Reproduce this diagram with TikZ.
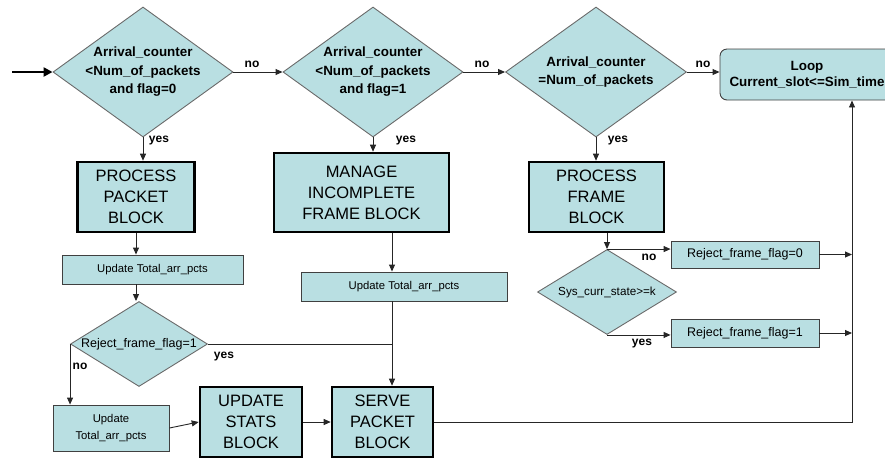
\documentclass[tikz,border=0pt]{standalone}
\usepackage{fontspec}
\setmainfont{Liberation Sans}
\usetikzlibrary{shapes.geometric,arrows.meta}
\definecolor{fillc}{HTML}{B9DFE2}
\definecolor{edgec}{HTML}{404040}
\definecolor{diac}{HTML}{6A6A6A}
\tikzset{
  x=1pt,y=-1pt,
  dia/.style={diamond,draw=diac,line width=0.9pt,fill=fillc,inner sep=0pt},
  diatext/.style={font=\fontsize{13.4}{18.5}\selectfont\bfseries,align=center,inner sep=0pt},
  smalltext/.style={font=\fontsize{12.5}{17}\selectfont,align=center,inner sep=0pt},
  bigblock/.style={rectangle,draw=black,line width=2.6pt,fill=fillc,align=center,inner sep=0pt,
    font=\fontsize{16.5}{21}\selectfont},
  thinbox/.style={rectangle,draw=edgec,line width=0.9pt,fill=fillc,align=center,inner sep=0pt,
    font=\fontsize{12.5}{17}\selectfont},
  updbox/.style={thinbox,font=\fontsize{11.3}{17}\selectfont},
  lbl/.style={font=\fontsize{12}{14}\selectfont\bfseries,inner sep=0pt},
  arr/.style={draw=black!85,line width=0.9pt,-{Triangle[length=7pt,width=6pt]}},
  ln/.style={draw=black!85,line width=0.9pt},
}
\begin{document}
\begin{tikzpicture}
\useasboundingbox (0,0) rectangle (885,459);
% decision diamonds (top row)
\node[dia,minimum width=180pt,minimum height=130pt] (d1) at (143,72) {};
\node[diatext] at (d1.center) {Arrival\_counter\\<Num\_of\_packets\\and flag=0};
\node[dia,minimum width=180pt,minimum height=130pt] (d2) at (373,72) {};
\node[diatext] at (d2.center) {Arrival\_counter\\<Num\_of\_packets\\and flag=1};
\node[dia,minimum width=181pt,minimum height=130pt] (d3) at (596,72) {};
\node[diatext] at (d3.center) {Arrival\_counter\\=Num\_of\_packets};
\node[rectangle,rounded corners=7pt,draw=edgec,line width=0.9pt,fill=fillc,
  minimum width=174pt,minimum height=51pt,inner sep=0pt,align=center,
  font=\fontsize{13.4}{16}\selectfont\bfseries] (loop) at (807,74.5) {Loop\\Current\_slot<=Sim\_time};
% blocks
\node[bigblock,minimum width=117pt,minimum height=70pt] (pp) at (136,197) {PROCESS\\PACKET\\BLOCK};
\node[updbox,minimum width=181pt,minimum height=29pt] (u1) at (152.5,269.5) {Update Total\_arr\_pcts};
\node[dia,minimum width=137pt,minimum height=85pt] (dr) at (139,344) {};
\node[smalltext] at (dr.center) {Reject\_frame\_flag=1};
\node[updbox,minimum width=116pt,minimum height=46pt] (u2) at (111,428) {Update\\Total\_arr\_pcts};
\node[bigblock,minimum width=102pt,minimum height=70pt] (us) at (251,422) {UPDATE\\STATS\\BLOCK};
\node[bigblock,minimum width=101pt,minimum height=70pt] (sp) at (382.5,422) {SERVE\\PACKET\\BLOCK};
\node[bigblock,minimum width=175pt,minimum height=79pt] (mi) at (361.5,192.5) {MANAGE\\INCOMPLETE\\FRAME BLOCK};
\node[updbox,minimum width=206pt,minimum height=29pt] (u3) at (404,286.5) {Update Total\_arr\_pcts};
\node[bigblock,minimum width=135pt,minimum height=70pt] (pf) at (596.5,197) {PROCESS\\FRAME\\BLOCK};
\node[dia,minimum width=139pt,minimum height=85pt] (ds) at (607,292) {};
\node[smalltext,font=\fontsize{11.7}{17}\selectfont] at (ds.center) {Sys\_curr\_state>=k};
\node[thinbox,minimum width=148pt,minimum height=27pt] (r0) at (745,254.5) {Reject\_frame\_flag=0};
\node[thinbox,minimum width=148pt,minimum height=28pt] (r1) at (745,333) {Reject\_frame\_flag=1};
% helper coordinates
\coordinate (start) at (12,72);
\coordinate (c2) at (392,0);
\coordinate (cv) at (852,0);
% connectors
\draw[line width=2.8pt,-{Triangle[length=9pt,width=9pt]}] (start) -- (d1.west);
\draw[arr] (d1.east) -- (d2.west);
\draw[arr] (d2.east) -- (d3.west);
\draw[arr] (d3.east) -- (d3.east -| loop.west);
\draw[arr] (d1.south) -- (d1.south |- pp.north);
\draw[arr] (d2.south) -- (d2.south |- mi.north);
\draw[arr] (d3.south) -- (d3.south |- pf.north);
\draw[arr] (pp.south) -- (pp.south |- u1.north);
\draw[arr] (pp.south |- u1.south) -- (pp.south |- dr.north);
\draw[arr] (dr.west) -- (dr.west |- u2.north);
\draw[ln] (dr.east) -- (dr.east -| c2);
\draw[arr] (mi.south -| c2) -- (u3.north -| c2);
\draw[arr] (u3.south -| c2) -- (sp.north -| c2);
\draw[arr] (u2.east) -- (us.west);
\draw[arr] (us.east) -- (sp.west);
\draw[arr] (sp.east) -- (sp.east -| cv) -- (cv |- loop.south);
\draw[arr] (pf.south -| ds.north) -- (ds.north);
\draw[arr] (ds.north) -- (ds.north -| r0.west);
\draw[arr] (ds.south) -- (ds.south -| r1.west);
\draw[arr] (r0.east) -- (r0.east -| cv);
\draw[arr] (r1.east) -- (r1.east -| cv);
% labels
\node[lbl] at (252,64) {no};
\node[lbl] at (482,64) {no};
\node[lbl] at (703,64) {no};
\node[lbl] at (159,141) {yes};
\node[lbl] at (406,141) {yes};
\node[lbl] at (618,141) {yes};
\node[lbl] at (80,366) {no};
\node[lbl] at (224,357) {yes};
\node[lbl] at (649,257) {no};
\node[lbl] at (642,344) {yes};
\end{tikzpicture}
\end{document}
